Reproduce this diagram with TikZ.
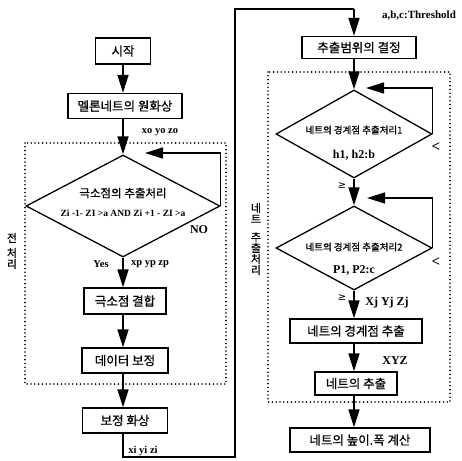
\documentclass[tikz,border=0pt]{standalone}
\usepackage{fontspec}
\setmainfont{Liberation Serif}
\newfontfamily\kr{Noto Sans CJK KR}[FakeBold=0.7]
\newfontfamily\symb{DejaVu Sans}
\usetikzlibrary{arrows.meta,shapes.geometric}

\tikzset{
  procbox/.style={draw, line width=1.3pt, inner sep=0pt, font=\kr\fontsize{12.5}{14}\selectfont},
  cond/.style={draw, diamond, line width=1.3pt, inner sep=0pt},
  flow/.style={line width=1.6pt, -{Triangle[length=18pt,width=11pt]}},
  link/.style={line width=1.8pt},
  groupline/.style={line width=1.8pt, dash pattern=on 0pt off 3.8pt, line cap=round},
  tag/.style={inner sep=0pt, font=\bfseries\fontsize{10.5}{10.5}\selectfont},
  condtext/.style={inner sep=0pt, font=\kr\fontsize{9.5}{9.5}\selectfont},
  sidetext/.style={inner sep=0pt, align=center, font=\kr\fontsize{11}{11}\selectfont}
}

\begin{document}
\begin{tikzpicture}[x=1pt,y=-1pt]
\useasboundingbox (0,0) rectangle (462,460);

% group frames
\draw[groupline] (25,143) rectangle (226,384);
\draw[groupline] (268,72) rectangle (450,402);

% left column: preprocessing
\node[procbox, minimum width=55, minimum height=26] (start) at (123,51) {시작};
\node[procbox, minimum width=114, minimum height=25] (raw) at (125,106) {멜론네트의 원화상};
\node[cond, minimum width=194, minimum height=102] (d0) at (123,206) {};
\node[condtext, font=\kr\fontsize{11.5}{11.5}\selectfont] (d0a) at (123,193) {극소점의 추출처리};
\node[tag, font=\bfseries\fontsize{9.5}{9.5}\selectfont] (d0b) at (123,213) {Zi -1- ZI >a AND Zi +1 - ZI >a};
\node[procbox, minimum width=82, minimum height=26] (join) at (125,301) {극소점 결합};
\node[procbox, minimum width=86, minimum height=25] (corr) at (125,360.5) {데이터 보정};
\node[procbox, minimum width=85, minimum height=25] (img) at (125,420.5) {보정 화상};

% right column: net extraction
\node[procbox, minimum width=114, minimum height=22] (range) at (359,47.5) {추출범위의 결정};
\node[cond, minimum width=156, minimum height=88] (d1) at (354,134) {};
\node[condtext] (d1a) at (354,130) {네트의 경계점 추출처리1};
\node[tag, font=\bfseries\fontsize{12}{12}\selectfont] (d1b) at (354,155) {h1, h2:b};
\node[cond, minimum width=156, minimum height=84] (d2) at (354,248) {};
\node[condtext] (d2a) at (354,247) {네트의 경계점 추출처리2};
\node[tag, font=\bfseries\fontsize{12}{12}\selectfont] (d2b) at (354,270) {P1, P2:c};
\node[procbox, minimum width=132, minimum height=24] (bnd) at (356,331) {네트의 경계점 추출};
\node[procbox, minimum width=82, minimum height=23] (net) at (356,383.5) {네트의 추출};
\node[procbox, minimum width=140, minimum height=24] (calc) at (360,440) {네트의 높이.폭 계산};

% group names
\node[sidetext] (pre) at (12,251) {전\\[4pt]처\\리};
\node[sidetext] (ext) at (256,239) {네\\트\\[7pt]추\\출\\처\\리};

% labels
\node[tag] (lxo) at (160,132) {xo yo zo};
\node[tag, font=\bfseries\fontsize{12}{12}\selectfont] (lno) at (199,230) {NO};
\node[tag] (lyes) at (101,264) {Yes};
\node[tag] (lxp) at (150,264) {xp yp zp};
\node[tag] (lxi) at (143,451) {xi yi zi};
\node[tag, font=\bfseries\fontsize{11}{11}\selectfont] (lthr) at (419,16) {a,b,c:Threshold};
\node[tag, font=\bfseries\fontsize{15}{15}\selectfont] (lt1) at (436,147) {<};
\node[tag, font=\bfseries\fontsize{15}{15}\selectfont] (lt2) at (436,262) {<};
\node[tag, font=\symb\fontsize{10}{10}\selectfont] (lge1) at (342,186) {≥};
\node[tag, font=\symb\fontsize{10}{10}\selectfont] (lge2) at (342,298) {≥};
\node[tag, font=\bfseries\fontsize{12}{12}\selectfont] (lxj) at (387,303) {Xj Yj Zj};
\node[tag, font=\bfseries\fontsize{12}{12}\selectfont] (lxyz) at (395,361) {XYZ};

% loop targets and bends
\coordinate (back0) at (145,153);
\coordinate (back1) at (366,88);
\coordinate (back2) at (367,198);
\coordinate (bendA) at (img.south |- 0,457);
\coordinate (bendB) at (235,457);
\coordinate (bendC) at (235,9);
\coordinate (bendD) at (d1.north |- 0,9);

% flow
\draw[flow] (start) -- (start.south |- raw.north);
\draw[flow] (start.south |- raw.south) -- (d0.north);
\draw[flow] (d0.south) -- (d0.south |- join.north);
\draw[flow] (d0.south |- join.south) -- (d0.south |- corr.north);
\draw[flow] (d0.south |- corr.south) -- (d0.south |- img.north);
\draw[flow] (d0.east) |- (back0);
\draw[link] (d0.south |- img.south) -- (bendA -| d0.south) -- (bendB) -- (bendC) -- (bendD);
\draw[flow] (bendD) -- (d1.north |- range.north);

\draw[flow] (d1.north |- range.south) -- (d1.north);
\draw[flow] (d1.east) |- (back1);
\draw[flow] (d1.south) -- (d2.north);
\draw[flow] (d2.east) |- (back2);
\draw[flow] (d2.south) -- (d2.south |- bnd.north);
\draw[flow] (d2.south |- bnd.south) -- (d2.south |- net.north);
\draw[flow] (d2.south |- net.south) -- (d2.south |- calc.north);
\end{tikzpicture}
\end{document}
